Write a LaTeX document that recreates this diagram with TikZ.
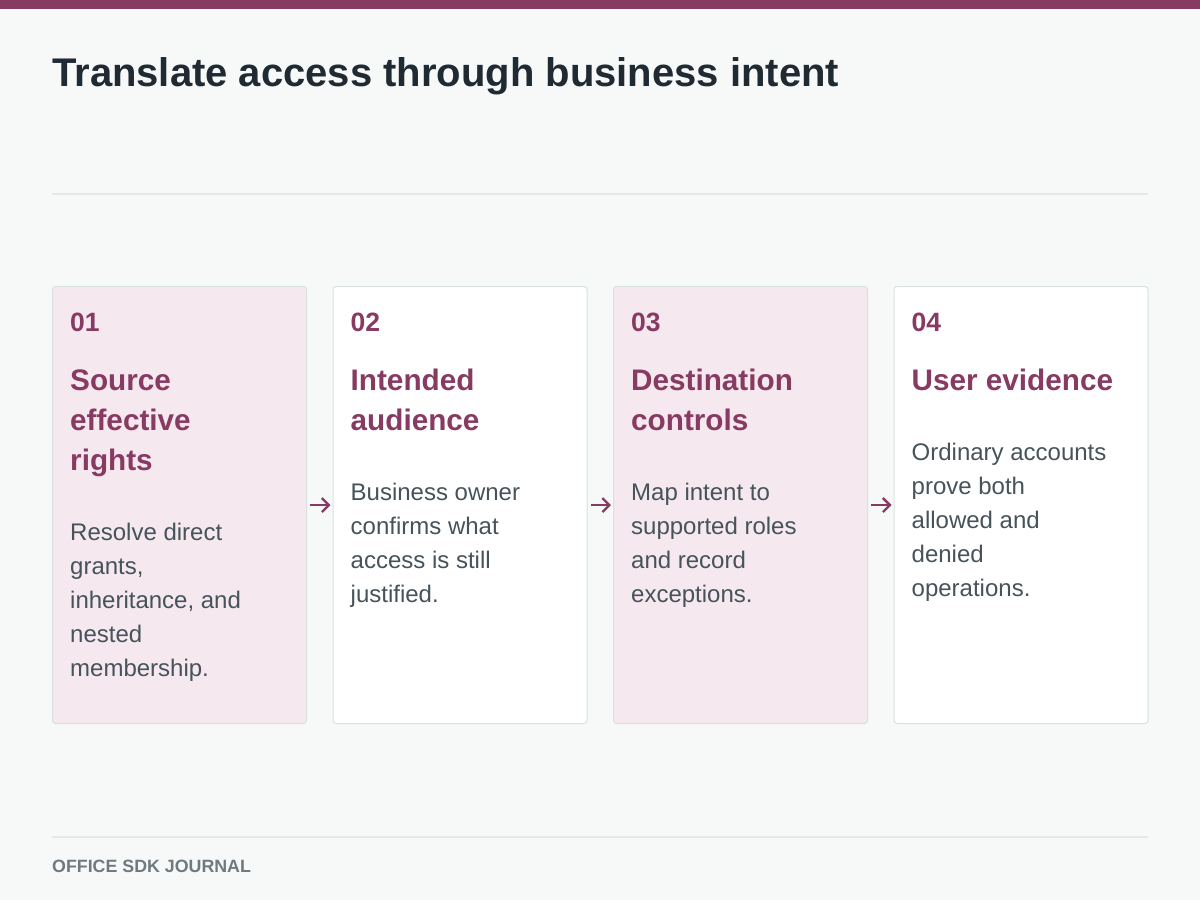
\documentclass[tikz,border=0pt]{standalone}
\usepackage{fontspec}
\setmainfont{Liberation Sans}
\usetikzlibrary{arrows.meta}
\definecolor{plum}{HTML}{873A62}
\definecolor{bg}{HTML}{F7F9F9}
\definecolor{pinkfill}{HTML}{F6E8EF}
\definecolor{cardborder}{HTML}{D8E1E1}
\definecolor{titlecol}{HTML}{1F2A33}
\definecolor{bodycol}{HTML}{46535A}
\definecolor{footcol}{HTML}{6E7A7F}
\definecolor{rulecol}{HTML}{E3E8E8}
\begin{document}
\begin{tikzpicture}[x=1pt,y=-1pt,
  card/.style={draw=cardborder,line width=1pt,rounded corners=3pt},
  pinkcard/.style={card,fill=pinkfill},
  whitecard/.style={card,fill=white},
  numtext/.style={anchor=base west,inner sep=0pt,text=plum,font=\fontsize{26.5}{30}\selectfont\bfseries},
  headtext/.style={anchor=base west,inner sep=0pt,text=plum,font=\fontsize{29.7}{40}\selectfont\bfseries},
  bodytext/.style={anchor=base west,inner sep=0pt,text=bodycol,font=\fontsize{24}{34}\selectfont},
  flow/.style={draw=plum,line width=2.3pt,-{Straight Barb[length=7pt,width=14pt,line width=2.3pt]}}
]
\useasboundingbox (0,0) rectangle (1200,900);
\fill[bg] (0,0) rectangle (1200,900);
\fill[plum] (0,0) rectangle (1200,9);
\node[anchor=base west,inner sep=0pt,text=titlecol,font=\fontsize{40}{48}\selectfont\bfseries] (title) at (52,86) {Translate access through business intent};
\draw[rulecol,line width=1.5pt] (52,194) -- (1148,194);
\draw[rulecol,line width=1.5pt] (52,837) -- (1148,837);
\node[anchor=base west,inner sep=0pt,text=footcol,font=\fontsize{17.8}{20}\selectfont\bfseries] (foot) at (52,872) {OFFICE SDK JOURNAL};

% cards
\node[pinkcard,minimum width=254pt,minimum height=437pt,anchor=north west,inner sep=0pt] (c1) at (52,286) {};
\node[whitecard,minimum width=254pt,minimum height=437pt,anchor=north west,inner sep=0pt] (c2) at (332.5,286) {};
\node[pinkcard,minimum width=254pt,minimum height=437pt,anchor=north west,inner sep=0pt] (c3) at (613,286) {};
\node[whitecard,minimum width=254pt,minimum height=437pt,anchor=north west,inner sep=0pt] (c4) at (893.5,286) {};

% card 1
\node[numtext] (n1) at (70,331) {01};
\node[headtext] (h1) at (70,390) {\parbox[t]{230pt}{Source\\effective\\rights}};
\node[bodytext] (b1) at (70,540) {\parbox[t]{230pt}{Resolve direct\\grants,\\inheritance, and\\nested\\membership.}};
% card 2
\node[numtext] (n2) at (350.5,331) {02};
\node[headtext] (h2) at (350.5,390) {\parbox[t]{230pt}{Intended\\audience}};
\node[bodytext] (b2) at (350.5,500) {\parbox[t]{230pt}{Business owner\\confirms what\\access is still\\justified.}};
% card 3
\node[numtext] (n3) at (631,331) {03};
\node[headtext] (h3) at (631,390) {\parbox[t]{230pt}{Destination\\controls}};
\node[bodytext] (b3) at (631,500) {\parbox[t]{230pt}{Map intent to\\supported roles\\and record\\exceptions.}};
% card 4
\node[numtext] (n4) at (911.5,331) {04};
\node[headtext] (h4) at (911.5,390) {User evidence};
\node[bodytext] (b4) at (911.5,460) {\parbox[t]{230pt}{Ordinary accounts\\prove both\\allowed and\\denied\\operations.}};

% arrows
\coordinate (a1s) at ([xshift=3pt]c1.east);
\coordinate (a1e) at ([xshift=-2pt]c2.west);
\coordinate (a2s) at ([xshift=3pt]c2.east);
\coordinate (a2e) at ([xshift=-2pt]c3.west);
\coordinate (a3s) at ([xshift=3pt]c3.east);
\coordinate (a3e) at ([xshift=-2pt]c4.west);
\draw[flow] (a1s) -- (a1e);
\draw[flow] (a2s) -- (a2e);
\draw[flow] (a3s) -- (a3e);
\end{tikzpicture}
\end{document}
